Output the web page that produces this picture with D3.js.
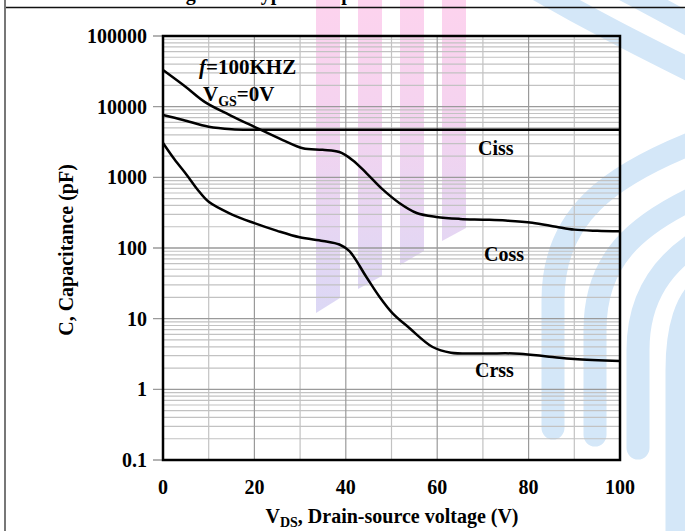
<!DOCTYPE html>
<html>
<head>
<meta charset="utf-8">
<script src="https://cdn.jsdelivr.net/npm/d3@7"></script>
<style>
body { margin: 0; background: #fff; }
svg { display: block; }
text { font-family: "Liberation Serif", "Times New Roman", serif; font-weight: bold; fill: #000; }
</style>
</head>
<body>
<div id="chart"></div>
<script>
var width = 685, height = 531;
var margin = {top: 36, right: 65, bottom: 71, left: 163};

// ---- values ----
var xTicks = [0, 20, 40, 60, 80, 100];
var yTicks = [0.1, 1, 10, 100, 1000, 10000, 100000];
var yTickLabels = ["0.1", "1", "10", "100", "1000", "10000", "100000"];

var cissV = [0, 4.4, 10, 15, 20, 30, 40, 50, 60, 70, 80, 90, 100];
var cissC = [7600, 6480, 5200, 4800, 4720, 4700, 4700, 4700, 4700, 4700, 4700, 4700, 4700];

var cossV = [0, 5, 9.2, 14.6, 20.1, 26.2, 30.6, 34.9, 38.6, 41.5, 44.5, 48, 51.7, 55.5, 59.8, 65, 70, 75, 80.8, 86, 90, 95, 100];
var cossC = [33000, 19000, 11600, 7620, 5150, 3370, 2580, 2450, 2280, 1750, 1150, 680, 434, 313, 275, 258, 252, 245, 228, 200, 182, 175, 172];

var crssV = [0, 2.5, 5.2, 7.5, 10, 15, 20, 25, 29.9, 35, 38.6, 40.8, 44.5, 47.4, 50.2, 53.9, 59, 63, 70, 78, 84.5, 90, 100];
var crssC = [3060, 1800, 1080, 680, 450, 300, 225, 175, 142, 126, 112, 90, 38.9, 20.3, 12, 7.38, 3.97, 3.3, 3.22, 3.2, 2.9, 2.68, 2.52];

var seriesNames = ["Ciss", "Coss", "Crss"];

var svg = d3.select("#chart")
    .append("svg")
    .attr("width", width)
    .attr("height", height);

svg.append("rect").attr("width", width).attr("height", height).attr("fill", "#fff");

//------------------------- WATERMARK -------------------------
var defs = svg.append("defs");
var grad = defs.append("linearGradient")
    .attr("id", "pinkGrad")
    .attr("gradientUnits", "userSpaceOnUse")
    .attr("x1", 0).attr("y1", 0).attr("x2", 0).attr("y2", 310);
grad.append("stop").attr("offset", "0%").attr("stop-color", "#fdd3ee");
grad.append("stop").attr("offset", "35%").attr("stop-color", "#f5d3ef");
grad.append("stop").attr("offset", "100%").attr("stop-color", "#dcd8f5");

var stripes = [[316, 313, 298], [358, 289, 276], [400, 265, 251], [442, 241, 228]];
svg.selectAll(".stripe")
    .data(stripes)
    .join("path")
    .attr("fill", "url(#pinkGrad)")
    .attr("d", d => `M${d[0]},0 L${d[0] + 24},0 L${d[0] + 24},${d[2]} L${d[0]},${d[1]} Z`);

var bands = [
    "M530,-15 C590,20 640,45 700,75",
    "M615,-15 C645,0 670,15 700,30",
    "M700,140 C610,175 553,215 553,300 L553,428",
    "M700,195 C635,225 595,260 595,330 L595,435",
    "M700,240 C665,262 638,295 638,350 L638,448",
    "M700,290 C688,300 677,325 677,370 L677,540"
];
svg.selectAll(".band")
    .data(bands)
    .join("path")
    .attr("d", d => d)
    .attr("fill", "none")
    .attr("stroke", "#d4e7f8")
    .attr("stroke-width", 23)
    .attr("stroke-linecap", "round");

//------------------------- PAGE FRAME -------------------------
svg.append("text")
    .attr("x", 168)
    .attr("y", 0)
    .style("font-size", "20px")
    .text("Figure 8. Typical Capacitance");

svg.append("line")
    .attr("x1", 5).attr("x2", width)
    .attr("y1", 7.5).attr("y2", 7.5)
    .attr("stroke", "#111").attr("stroke-width", 1.5);
svg.append("line")
    .attr("x1", 5).attr("x2", 5)
    .attr("y1", 0).attr("y2", height)
    .attr("stroke", "#777").attr("stroke-width", 2);

//------------------------- SCALES -------------------------
var x = d3.scaleLinear()
    .domain([0, 100])
    .range([margin.left, width - margin.right]);
var y = d3.scaleLog()
    .domain([0.1, 100000])
    .range([height - margin.bottom, margin.top]);

//------------------------- GRID -------------------------
var g = svg.append("g").attr("class", "grid");

var minorY = [];
yTicks.slice(0, -1).forEach(d => {
    for (var k = 2; k <= 9; k++) minorY.push(d * k);
});

g.selectAll(".minorY")
    .data(minorY)
    .join("line")
    .attr("x1", x(0)).attr("x2", x(100))
    .attr("y1", d => y(d)).attr("y2", d => y(d))
    .attr("stroke", "#c2c2c2").attr("stroke-width", 1.2);

g.selectAll(".vgrid")
    .data(d3.range(10, 100, 10))
    .join("line")
    .attr("x1", d => x(d)).attr("x2", d => x(d))
    .attr("y1", y(0.1)).attr("y2", y(100000))
    .attr("stroke", d => d % 20 === 0 ? "#9a9a9a" : "#c2c2c2")
    .attr("stroke-width", 1.2);

g.selectAll(".majorY")
    .data(yTicks)
    .join("line")
    .attr("x1", x(0) - 10).attr("x2", x(100))
    .attr("y1", d => y(d)).attr("y2", d => y(d))
    .attr("stroke", "#9a9a9a").attr("stroke-width", 1.3);

//------------------------- CURVES -------------------------
var line = d3.line()
    .x(d => x(d[0]))
    .y(d => y(d[1]))
    .curve(d3.curveCatmullRom.alpha(0.5));

var curves = [
    d3.zip(cissV, cissC),
    d3.zip(cossV, cossC),
    d3.zip(crssV, crssC)
];

svg.selectAll(".curve")
    .data(curves)
    .join("path")
    .attr("d", line)
    .attr("fill", "none")
    .attr("stroke", "#000")
    .attr("stroke-width", 2.5);

// plot border
svg.append("rect")
    .attr("x", x(0)).attr("y", y(100000))
    .attr("width", x(100) - x(0))
    .attr("height", y(0.1) - y(100000))
    .attr("fill", "none")
    .attr("stroke", "#000")
    .attr("stroke-width", 2.5);

//------------------------- TICK LABELS -------------------------
svg.selectAll(".ylab")
    .data(yTicks)
    .join("text")
    .attr("x", x(0) - 16)
    .attr("y", d => y(d) + 7)
    .attr("text-anchor", "end")
    .style("font-size", "20px")
    .text((d, i) => yTickLabels[i]);

svg.selectAll(".xlab")
    .data(xTicks)
    .join("text")
    .attr("x", d => x(d))
    .attr("y", 494)
    .attr("text-anchor", "middle")
    .style("font-size", "20px")
    .text(d => d);

//------------------------- AXIS TITLES -------------------------
var xt = svg.append("text")
    .attr("x", 392)
    .attr("y", 523)
    .attr("text-anchor", "middle")
    .style("font-size", "20px");
xt.append("tspan").text("V");
xt.append("tspan").attr("dy", 4).style("font-size", "14px").text("DS");
xt.append("tspan").attr("dy", -4).text(", Drain-source voltage (V)");

svg.append("text")
    .attr("transform", "translate(73, 250) rotate(-90)")
    .attr("text-anchor", "middle")
    .style("font-size", "20px")
    .text("C, Capacitance (pF)");

//------------------------- ANNOTATIONS -------------------------
var f = svg.append("text")
    .attr("x", 199)
    .attr("y", 74)
    .style("font-size", "21px");
f.append("tspan").style("font-style", "italic").text("f");
f.append("tspan").text("=100KHZ");

var vg = svg.append("text")
    .attr("x", 203)
    .attr("y", 101)
    .style("font-size", "21px");
vg.append("tspan").text("V");
vg.append("tspan").attr("dy", 5).style("font-size", "14px").text("GS");
vg.append("tspan").attr("dy", -5).text("=0V");

var labelPos = [[478, 155], [484, 261], [475, 377]];
svg.selectAll(".slab")
    .data(seriesNames)
    .join("text")
    .attr("x", (d, i) => labelPos[i][0])
    .attr("y", (d, i) => labelPos[i][1])
    .style("font-size", "20px")
    .text(d => d);
</script>
</body>
</html>
